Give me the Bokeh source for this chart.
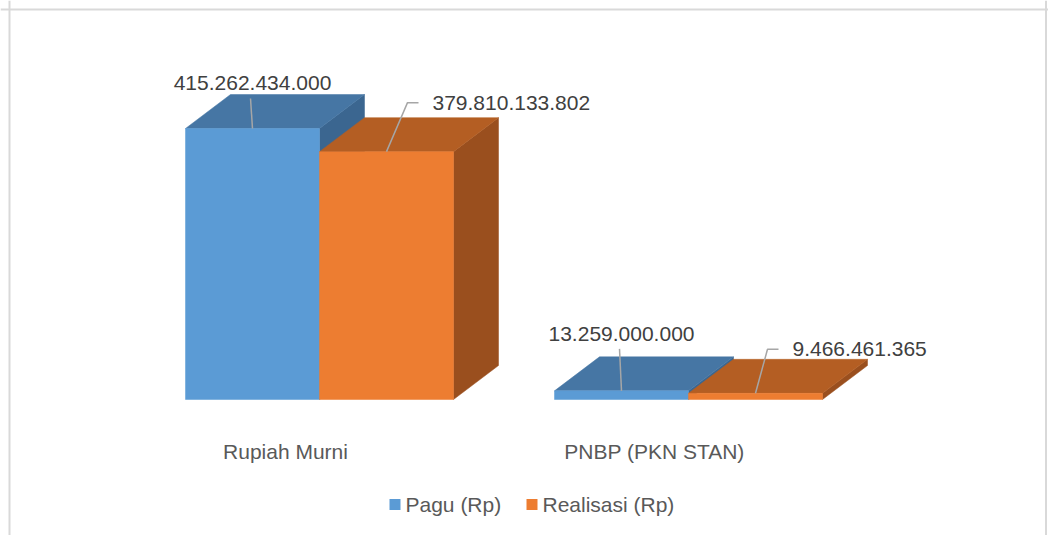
from bokeh.plotting import figure
from bokeh.models import Range1d, Span
from bokeh.core.properties import value
from bokeh.embed import file_html
from bokeh.resources import INLINE

# ---- data ----
categories = ["Rupiah Murni", "PNBP (PKN STAN)"]
series = ["Pagu (Rp)", "Realisasi (Rp)"]
pagu = [415262434000, 13259000000]
realisasi = [379810133802, 9466461365]

def fmt(v):
    return f"{v:,}".replace(",", ".")

# ---- layout (pixel constants) ----
W, H = 1048, 535
PX_CAT = 369.0            # px per category unit
PX_B = 271.0 / 415.262434 # px per billion
X0_PX = 319.0             # frame x of category 0 centre
FLOOR_PX = 136.0          # floor distance from frame bottom

x_start = -X0_PX / PX_CAT
x_end = (W - X0_PX) / PX_CAT
y_start = -FLOOR_PX / PX_B
y_end = (H - FLOOR_PX) / PX_B

def dx(px):
    return px / PX_CAT

def dy(px):
    return px / PX_B

BW = dx(134)
DX = dx(45)
DY = dy(34)

p = figure(width=W, height=H, output_backend="svg", toolbar_location=None,
           x_range=Range1d(x_start, x_end), y_range=Range1d(y_start, y_end),
           min_border=0, outline_line_color=None)
p.axis.visible = False
p.grid.visible = False
p.background_fill_color = "white"

# border (top/left/right)
bc = "#d9d9d9"
p.add_layout(Span(location=x_start + dx(9), dimension="height", line_color=bc, line_width=2))
p.add_layout(Span(location=x_start + dx(1045.5), dimension="height", line_color=bc, line_width=2))
p.add_layout(Span(location=y_end - dy(9), dimension="width", line_color=bc, line_width=2))

colors = {
    "Pagu (Rp)": ("#5b9bd5", "#4676a4", "#3b6690"),
    "Realisasi (Rp)": ("#ed7d31", "#b45e23", "#9a4f1e"),
}

def box(x0, val, cols):
    v = val / 1e9
    front, top, side = cols
    x1 = x0 + BW
    # side face
    p.patch([x1, x1 + DX, x1 + DX, x1], [0, DY, v + DY, v], fill_color=side, line_color=side, line_width=0.5)
    # top face
    p.patch([x0, x1, x1 + DX, x0 + DX], [v, v, v + DY, v + DY], fill_color=top, line_color=top, line_width=0.5)
    # front face
    p.quad(left=x0, right=x1, bottom=0, top=v, fill_color=front, line_color=front, line_width=0.5)

for i, cat in enumerate(categories):
    box(i - BW, pagu[i], colors["Pagu (Rp)"])
    box(i, realisasi[i], colors["Realisasi (Rp)"])

lc = "#a6a6a6"
tc = "#404040"
font = value("Liberation Sans")
FS = "21px"

# Pagu labels: leader straight up from front-centre, text centred
pagu_leader = [(-2, 30), (-2, 42)]   # (dx px at end, length px)
pagu_text_off = [(0, 46), (0, 57)]   # text centre offset from bar top centre
for i in range(2):
    v = pagu[i] / 1e9
    cx = i - BW / 2
    ldx, llen = pagu_leader[i]
    p.line([cx, cx + dx(ldx)], [v, v + dy(llen)], line_color=lc, line_width=1.5)
    ox, oy = pagu_text_off[i]
    p.text(x=[cx + dx(ox)], y=[v + dy(oy)], text=[fmt(pagu[i])], text_font=font,
           text_font_size=FS, text_color=tc, text_align="center", text_baseline="middle")

# Realisasi labels: slanted leader then horizontal stub, text left aligned
real_leader = [(21, 49), (12, 44)]
for i in range(2):
    v = realisasi[i] / 1e9
    cx = i + BW / 2
    ldx, llen = real_leader[i]
    xa, ya = cx + dx(ldx), v + dy(llen)
    p.line([cx, xa, xa + dx(11)], [v, ya, ya], line_color=lc, line_width=1.5)
    p.text(x=[xa + dx(25)], y=[ya], text=[fmt(realisasi[i])], text_font=font,
           text_font_size=FS, text_color=tc, text_align="left", text_baseline="middle")

# category labels
p.text(x=[i - dx(34) for i in range(len(categories))], y=[-dy(52)] * len(categories),
       text=categories, text_font=font, text_font_size=FS, text_color="#595959",
       text_align="center", text_baseline="middle")

# legend
ly = -dy(105)
leg_x = [dx(389 - 319), dx(526 - 319)]
for k, s in enumerate(series):
    xs = leg_x[k]
    p.quad(left=xs, right=xs + dx(11), bottom=ly - dy(5.5), top=ly + dy(5.5),
           fill_color=colors[s][0], line_color=None)
    p.text(x=[xs + dx(16)], y=[ly], text=[s], text_font=font, text_font_size=FS,
           text_color="#595959", text_align="left", text_baseline="middle")

open("out.html", "w").write(file_html(p, INLINE))
